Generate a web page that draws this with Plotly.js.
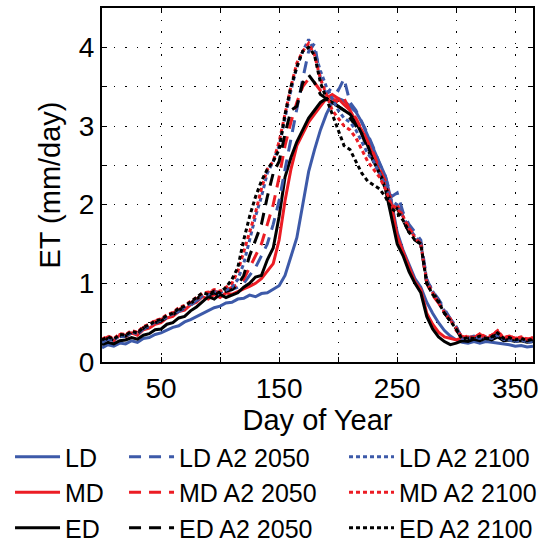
<!DOCTYPE html>
<html>
<head>
<meta charset="utf-8">
<script src="https://cdn.plot.ly/plotly-3.0.1.min.js"></script>
<style>html,body{margin:0;padding:0;background:#fff;}#chart{width:540px;height:538px;}</style>
</head>
<body>
<div id="chart"></div>
<script>
var days = [0,5,10,15,20,25,30,35,40,45,50,55,60,65,70,75,80,85,90,95,100,105,110,115,120,125,130,135,140,145,150,155,160,165,170,175,180,185,190,195,200,205,210,215,220,225,230,235,240,245,250,255,260,265,270,275,280,285,290,295,300,305,310,315,320,325,330,335,340,345,350,355,360,365];

var LD = [0.18,0.22,0.20,0.24,0.23,0.27,0.25,0.30,0.31,0.35,
  0.37,0.41,0.44,0.46,0.51,0.54,0.58,0.62,0.65,0.69,
  0.71,0.75,0.76,0.80,0.81,0.85,0.83,0.87,0.88,0.92,
  0.97,1.10,1.35,1.58,2.00,2.42,2.70,2.95,3.15,3.30,
  3.35,3.32,3.25,3.18,3.05,2.88,2.72,2.55,2.36,2.05,
  1.65,1.42,1.25,1.06,0.95,0.76,0.62,0.50,0.40,0.33,
  0.28,0.25,0.24,0.26,0.24,0.26,0.25,0.24,0.23,0.22,
  0.20,0.21,0.19,0.20];
var MD = [0.28,0.31,0.27,0.34,0.32,0.37,0.34,0.41,0.43,0.48,
  0.50,0.56,0.58,0.64,0.66,0.73,0.76,0.83,0.80,0.86,
  0.82,0.88,0.86,0.90,0.93,0.96,1.00,1.06,1.15,1.25,
  1.55,2.05,2.45,2.75,2.90,3.05,3.15,3.25,3.35,3.40,
  3.35,3.27,3.20,3.06,2.95,2.80,2.62,2.45,2.25,2.00,
  1.60,1.40,1.20,1.02,0.92,0.62,0.48,0.38,0.32,0.30,
  0.28,0.31,0.32,0.30,0.34,0.30,0.33,0.38,0.30,0.32,
  0.29,0.31,0.28,0.30];
var ED = [0.22,0.25,0.23,0.27,0.28,0.31,0.29,0.34,0.36,0.41,
  0.42,0.48,0.50,0.56,0.58,0.65,0.70,0.76,0.83,0.80,
  0.86,0.82,0.85,0.88,0.95,1.00,1.08,1.10,1.30,1.45,
  1.85,2.35,2.60,2.80,2.95,3.10,3.20,3.30,3.35,3.30,
  3.25,3.20,3.15,3.05,2.90,2.75,2.55,2.40,2.20,1.85,
  1.50,1.35,1.15,1.00,0.88,0.58,0.42,0.32,0.26,0.22,
  0.24,0.27,0.26,0.29,0.27,0.30,0.28,0.32,0.27,0.28,
  0.26,0.27,0.25,0.26];
var LD2050 = [0.25,0.29,0.27,0.32,0.33,0.37,0.35,0.42,0.45,0.49,
  0.52,0.56,0.60,0.65,0.68,0.72,0.78,0.83,0.85,0.88,
  0.86,0.90,0.92,0.95,1.00,1.10,1.20,1.35,1.50,1.75,
  2.05,2.45,2.85,3.25,3.60,3.95,4.05,3.60,3.40,3.50,
  3.45,3.60,3.30,3.20,3.05,2.90,2.72,2.52,2.36,2.10,
  2.15,1.90,1.75,1.65,1.55,1.05,0.90,0.80,0.68,0.55,
  0.45,0.30,0.31,0.33,0.30,0.33,0.31,0.35,0.30,0.29,
  0.27,0.29,0.26,0.27];
var MD2050 = [0.28,0.32,0.29,0.35,0.34,0.39,0.37,0.44,0.46,0.52,
  0.54,0.58,0.62,0.67,0.70,0.75,0.80,0.85,0.88,0.90,
  0.88,0.92,0.95,0.98,1.05,1.20,1.35,1.50,1.75,2.00,
  2.35,2.75,3.05,3.30,3.50,3.60,3.55,3.45,3.40,3.35,
  3.30,3.35,3.20,3.10,2.95,2.80,2.65,2.45,2.30,2.05,
  2.00,1.85,1.70,1.60,1.50,1.00,0.85,0.75,0.62,0.55,
  0.40,0.32,0.33,0.31,0.35,0.32,0.34,0.39,0.31,0.33,
  0.30,0.32,0.29,0.31];
var ED2050 = [0.27,0.30,0.28,0.33,0.33,0.38,0.36,0.43,0.45,0.50,
  0.52,0.57,0.60,0.66,0.69,0.74,0.80,0.86,0.85,0.88,
  0.85,0.90,0.92,0.98,1.10,1.35,1.55,1.75,2.10,2.40,
  2.55,2.90,3.20,3.25,3.55,3.65,3.55,3.40,3.35,3.30,
  3.25,3.20,3.10,3.00,2.90,2.70,2.55,2.40,2.25,2.00,
  1.95,1.80,1.65,1.55,1.50,1.00,0.88,0.78,0.62,0.52,
  0.42,0.28,0.30,0.29,0.32,0.29,0.31,0.36,0.29,0.30,
  0.28,0.29,0.27,0.28];
var LD2100 = [0.26,0.30,0.28,0.33,0.32,0.38,0.36,0.43,0.46,0.51,
  0.53,0.57,0.61,0.66,0.70,0.74,0.79,0.84,0.86,0.90,
  0.88,0.92,0.95,1.05,1.25,1.55,1.85,2.10,2.40,2.55,
  2.75,3.10,3.45,3.75,3.95,4.10,3.95,3.70,3.50,3.35,
  3.20,3.10,3.05,2.95,2.80,2.65,2.55,2.40,2.25,2.05,
  2.00,1.85,1.70,1.60,1.50,1.05,0.90,0.78,0.65,0.55,
  0.45,0.30,0.30,0.32,0.30,0.32,0.30,0.34,0.29,0.28,
  0.26,0.28,0.25,0.26];
var MD2100 = [0.29,0.33,0.30,0.36,0.35,0.40,0.38,0.45,0.48,0.53,
  0.55,0.60,0.63,0.69,0.72,0.77,0.82,0.87,0.89,0.92,
  0.90,0.95,1.00,1.15,1.40,1.65,1.90,2.20,2.45,2.55,
  2.80,3.15,3.50,3.80,3.95,4.05,3.90,3.60,3.40,3.20,
  3.10,3.00,2.95,2.85,2.70,2.55,2.45,2.35,2.20,2.00,
  1.95,1.85,1.70,1.58,1.50,1.02,0.88,0.76,0.63,0.53,
  0.43,0.31,0.33,0.31,0.36,0.32,0.34,0.40,0.31,0.33,
  0.30,0.32,0.29,0.31];
var ED2100 = [0.28,0.32,0.29,0.35,0.34,0.39,0.37,0.44,0.47,0.52,
  0.54,0.59,0.62,0.68,0.71,0.76,0.82,0.88,0.86,0.90,
  0.88,0.95,1.05,1.20,1.55,1.85,2.10,2.30,2.45,2.55,
  2.70,3.15,3.50,3.75,3.95,4.00,3.90,3.55,3.35,3.15,
  2.95,2.75,2.70,2.55,2.40,2.30,2.25,2.20,2.10,1.95,
  1.90,1.80,1.65,1.55,1.50,1.00,0.86,0.76,0.62,0.52,
  0.42,0.29,0.31,0.30,0.33,0.30,0.32,0.37,0.30,0.31,
  0.28,0.30,0.27,0.29];

var xTickVals = [50,100,150,200,250,300,350];
var xTickText = ['50','','150','','250','','350'];
var yTickVals = [0,0.5,1,1.5,2,2.5,3,3.5,4];
var yTickText = ['0','','1','','2','','3','','4'];

var BLUE = '#3d5aa9', RED = '#ec1c24', BLACK = '#000000';
var FONT = 'Liberation Sans, Arial, Helvetica, sans-serif';

function tr(name, y, color, dash, legend) {
  return {x: days, y: y, name: name, type: 'scatter', mode: 'lines',
    line: {color: color, width: 3, dash: dash}, legend: legend};
}
var SOLID = 'solid', DASH = '12px,8px', DOT = '4px,3px';
var data = [
  tr('LD', LD, BLUE, SOLID, 'legend'),
  tr('MD', MD, RED, SOLID, 'legend'),
  tr('ED', ED, BLACK, SOLID, 'legend'),
  tr('LD A2 2050', LD2050, BLUE, DASH, 'legend2'),
  tr('MD A2 2050', MD2050, RED, DASH, 'legend2'),
  tr('ED A2 2050', ED2050, BLACK, DASH, 'legend2'),
  tr('LD A2 2100', LD2100, BLUE, DOT, 'legend3'),
  tr('MD A2 2100', MD2100, RED, DOT, 'legend3'),
  tr('ED A2 2100', ED2100, BLACK, DOT, 'legend3')
];

function leg(x) {
  return {x: x, y: -0.2034, xanchor: 'left', yanchor: 'top', orientation: 'v',
    font: {family: FONT, size: 25, color: '#000'}, bgcolor: 'rgba(0,0,0,0)',
    borderwidth: 0, itemwidth: 45, tracegroupgap: 0};
}

var layout = {
  width: 540, height: 538,
  margin: {l: 102, r: 7, t: 8, b: 176, autoexpand: false},
  paper_bgcolor: '#fff', plot_bgcolor: '#fff',
  font: {family: FONT, color: '#000'},
  showlegend: true,
  legend: leg(-0.2134),
  legend2: leg(0.0511),
  legend3: leg(0.5615),
  xaxis: {
    range: [0, 365], tickmode: 'array', tickvals: xTickVals, ticktext: xTickText,
    ticks: 'inside', ticklen: 5, tickwidth: 1, tickcolor: '#000',
    showline: true, linewidth: 2, linecolor: '#000', mirror: 'ticks',
    showgrid: true, gridcolor: '#000', gridwidth: 1, griddash: '1.5px,10px',
    zeroline: false, tickfont: {family: FONT, size: 28, color: '#000'},
    title: {text: 'Day of Year', font: {family: FONT, size: 29, color: '#000'}, standoff: 0}
  },
  yaxis: {
    range: [0, 4.5], tickmode: 'array', tickvals: yTickVals, ticktext: yTickText,
    ticks: 'inside', ticklen: 5, tickwidth: 1, tickcolor: '#000',
    showline: true, linewidth: 2, linecolor: '#000', mirror: 'ticks',
    showgrid: true, gridcolor: '#000', gridwidth: 1, griddash: '1.5px,10px',
    zeroline: false, tickfont: {family: FONT, size: 28, color: '#000'},
    title: {text: 'ET (mm/day)', font: {family: FONT, size: 29, color: '#000'}, standoff: 10}
  }
};

Plotly.newPlot('chart', data, layout, {displayModeBar: false, staticPlot: true});
</script>
</body>
</html>
